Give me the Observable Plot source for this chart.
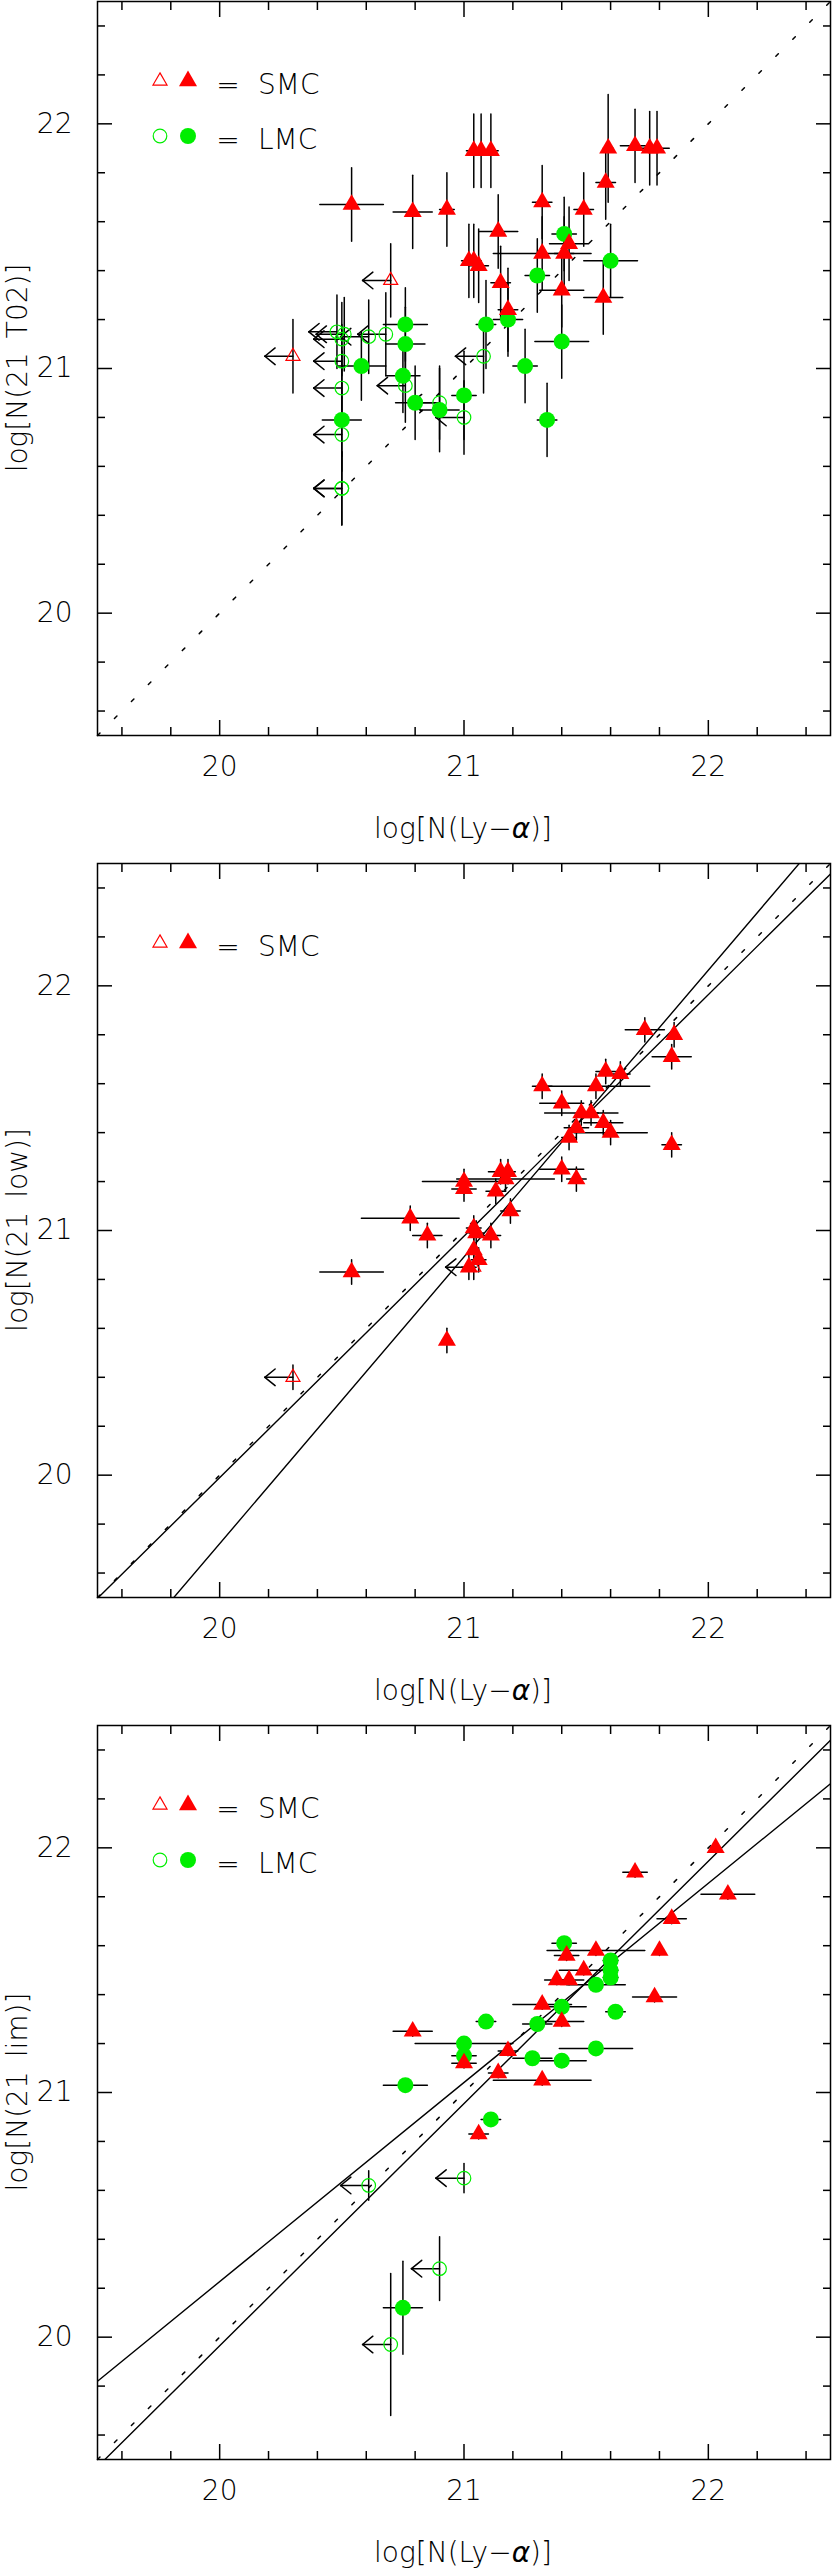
<!DOCTYPE html>
<html>
<head>
<meta charset="utf-8">
<script src="https://cdn.jsdelivr.net/npm/d3@7"></script>
<script src="https://cdn.jsdelivr.net/npm/@observablehq/plot@0.6"></script>
<style>
  html, body { margin: 0; padding: 0; background: #fff; }
  #chart svg { display: block; }
  #chart text { font-family: "DejaVu Sans", "Liberation Sans", sans-serif; font-weight: 300; }
</style>
</head>
<body>
<div id="chart"></div>
<script>
const RED = "#ff0000";
const GREEN = "#00ee00";

// Axis domain and ticks (log column density)
const axisDomain = [19.5, 22.5];
const majorTicks = [20, 21, 22];
const minorTicks = [19.6, 19.8, 20.2, 20.4, 20.6, 20.8, 21.2, 21.4, 21.6, 21.8, 22.2, 22.4];
const identityLine = [19.5, 22.5];

// ---------- Panel 1: log N(21 T02) vs log N(Ly-alpha)
const p1SmcX  = [20.54,20.79,20.93,21.04,21.07,21.11,21.59,21.70,21.76,21.79,21.58,21.32,21.49,21.14,21.43,21.02,21.04,21.06,21.32,21.41,21.15,21.40,21.57,21.18];
const p1SmcY  = [21.67,21.64,21.65,21.89,21.89,21.89,21.90,21.91,21.90,21.90,21.76,21.68,21.65,21.56,21.51,21.44,21.44,21.42,21.47,21.47,21.35,21.32,21.29,21.24];
const p1SmcXe = [0.13,0.08,0.03,0.03,0.03,0.03,0.02,0.06,0.03,0.05,0.04,0.04,0.04,0.08,0.08,0.03,0.03,0.04,0.20,0.04,0.04,0.09,0.08,0.04];
const p1SmcYe = [0.15,0.15,0.15,0.15,0.15,0.15,0.22,0.15,0.15,0.15,0.15,0.15,0.15,0.15,0.15,0.15,0.15,0.15,0.15,0.15,0.15,0.15,0.15,0.17];
const p1SmcLimX  = [20.70,20.30];
const p1SmcLimY  = [21.36,21.05];
const p1SmcLimYe = [0.15,0.15];
const p1LmcX  = [20.76,20.76,20.58,20.75,20.80,20.90,20.50,21.41,21.30,21.60,21.18,21.09,21.40,21.25,21.00,21.34];
const p1LmcY  = [21.18,21.10,21.01,20.97,20.86,20.83,20.79,21.55,21.38,21.44,21.20,21.18,21.11,21.01,20.89,20.79];
const p1LmcXe = [0.09,0.08,0.10,0.07,0.08,0.08,0.08,0.05,0.05,0.11,0.06,0.04,0.11,0.05,0.05,0.04];
const p1LmcYe = [0.15,0.15,0.14,0.15,0.15,0.17,0.15,0.15,0.15,0.15,0.15,0.18,0.15,0.15,0.18,0.15];
const p1LmcLimX  = [20.50,20.50,20.50,20.50,20.50,20.48,20.50,20.51,20.61,20.68,20.76,20.90,21.00,21.08];
const p1LmcLimY  = [20.73,20.51,20.51,20.92,21.03,21.15,21.12,21.14,21.13,21.14,20.93,20.86,20.80,21.05];
const p1LmcLimYe = [0.15,0.15,0.15,0.15,0.15,0.15,0.15,0.15,0.15,0.17,0.15,0.15,0.15,0.15];

// ---------- Panel 2: log N(21 low) vs log N(Ly-alpha)
const p2SmcX  = [21.74,21.86,21.85,21.58,21.64,21.32,21.54,21.40,21.48,21.52,21.46,21.57,21.60,21.43,21.85,21.40,21.46,21.00,21.00,21.15,21.18,21.17,21.13,21.19,21.04,21.05,21.11,21.04,21.06,21.02,20.78,20.85,20.54,20.93];
const p2SmcY  = [21.82,21.80,21.71,21.65,21.64,21.59,21.59,21.52,21.48,21.48,21.42,21.44,21.40,21.38,21.35,21.25,21.21,21.20,21.17,21.24,21.24,21.21,21.16,21.08,21.01,20.99,20.98,20.92,20.88,20.85,21.05,20.98,20.83,20.55];
const p2SmcXe = [0.08,0.02,0.08,0.04,0.04,0.04,0.22,0.09,0.15,0.03,0.05,0.08,0.15,0.03,0.04,0.09,0.04,0.17,0.05,0.05,0.03,0.20,0.04,0.04,0.03,0.03,0.04,0.02,0.03,0.03,0.20,0.06,0.13,0.02];
const p2SmcYe = [0.05,0.05,0.05,0.05,0.05,0.05,0.05,0.05,0.05,0.05,0.05,0.05,0.05,0.05,0.05,0.05,0.05,0.05,0.05,0.05,0.05,0.05,0.05,0.05,0.05,0.05,0.05,0.05,0.05,0.05,0.05,0.05,0.05,0.05];
const p2SmcLimX  = [20.30,21.04];
const p2SmcLimY  = [20.40,20.85];
const p2SmcLimYe = [0.05,0.05];
const p2FitIntercept = [0.25, -3.72];
const p2FitSlope     = [0.987, 1.172];

// ---------- Panel 3: log N(21 lim) vs log N(Ly-alpha)
const p3SmcX  = [20.79,21.00,21.06,21.14,21.18,21.32,21.32,21.40,21.38,21.43,21.42,21.49,21.54,21.78,21.80,21.85,21.70,22.03,22.08];
const p3SmcY  = [21.25,21.12,20.83,21.08,21.17,21.05,21.36,21.29,21.46,21.46,21.56,21.50,21.58,21.39,21.58,21.71,21.90,22.00,21.81];
const p3SmcXe = [0.08,0.05,0.04,0.04,0.04,0.20,0.12,0.09,0.05,0.06,0.05,0.10,0.20,0.09,0.02,0.06,0.05,0.02,0.11];
const p3SmcYe = [0.02,0.02,0.02,0.02,0.02,0.02,0.02,0.02,0.02,0.02,0.02,0.02,0.02,0.02,0.02,0.02,0.02,0.02,0.02];
const p3LmcX  = [20.75,20.76,21.00,21.00,21.09,21.11,21.28,21.30,21.40,21.40,21.41,21.54,21.54,21.60,21.60,21.60,21.62];
const p3LmcY  = [20.12,21.03,21.20,21.15,21.29,20.89,21.14,21.28,21.13,21.35,21.61,21.18,21.44,21.47,21.50,21.54,21.33];
const p3LmcXe = [0.08,0.09,0.20,0.05,0.04,0.04,0.08,0.06,0.10,0.10,0.05,0.15,0.12,0.03,0.03,0.03,0.04];
const p3LmcYe = [0.19,0.02,0.02,0.02,0.02,0.02,0.02,0.02,0.02,0.02,0.02,0.02,0.02,0.02,0.02,0.02,0.02];
const p3LmcLimX  = [21.00,20.61,20.90,20.70];
const p3LmcLimY  = [20.65,20.62,20.28,19.97];
const p3LmcLimYe = [0.06,0.06,0.13,0.29];
const p3FitIntercept = [3.947, 0.165];
const p3FitSlope     = [0.814, 0.99];

// ---------- helpers
function rows(x, y, xe, ye) {
  return x.map((v, i) => ({x: v, y: y[i], xe: xe ? xe[i] : 0, ye: ye ? ye[i] : 0}));
}
const ARROW = 0.115, HEAD_X = 0.042, HEAD_Y = 0.034;
const FONT = 28;

function panel(cfg) {
  const {smc = [], smcLim = [], lmc = [], lmcLim = [], fitA = [], fitB = [], height, ylabel, showLMC} = cfg;
  const W = 832, mL = 97, mR = 2, mT = 1, frameH = 734;
  const mB = height - mT - frameH;
  const pts = [...smc, ...smcLim, ...lmc, ...lmcLim];
  const lims = [...smcLim, ...lmcLim];
  const fitRows = fitA.flatMap((a, k) => axisDomain.map(x => ({k, x, y: a + fitB[k] * x})));
  const line = {stroke: "#000", strokeWidth: 1.5, strokeLinecap: "round"};
  const tickAxes = [];
  for (const [ticks, size] of [[majorTicks, -15], [minorTicks, -8]]) {
    for (const anchor of ["bottom", "top"]) tickAxes.push(Plot.axisX({ticks, anchor, tickSize: size, tickFormat: () => "", label: null, strokeWidth: 1.5}));
    for (const anchor of ["left", "right"]) tickAxes.push(Plot.axisY({ticks, anchor, tickSize: size, tickFormat: () => "", label: null, strokeWidth: 1.5}));
  }
  const svg = Plot.plot({
    width: W, height,
    marginLeft: mL, marginRight: mR, marginTop: mT, marginBottom: mB,
    x: {domain: axisDomain},
    y: {domain: axisDomain},
    style: {fontFamily: '"DejaVu Sans", sans-serif', background: "#fff", color: "#000"},
    marks: [
      Plot.line(identityLine.map(v => ({x: v, y: v})), {x: "x", y: "y", stroke: "#000", strokeWidth: 1.5, strokeDasharray: "3.5,20.5"}),
      Plot.line(fitRows, {x: "x", y: "y", z: "k", stroke: "#000", strokeWidth: 1.4, clip: true}),
      Plot.link(pts.filter(d => d.ye > 0), {x1: "x", x2: "x", y1: d => d.y - d.ye, y2: d => d.y + d.ye, ...line}),
      Plot.link([...smc, ...lmc].filter(d => d.xe > 0), {y1: "y", y2: "y", x1: d => d.x - d.xe, x2: d => d.x + d.xe, ...line}),
      Plot.link(lims, {x1: "x", y1: "y", x2: d => d.x - ARROW, y2: "y", ...line}),
      Plot.link(lims, {x1: d => d.x - ARROW, y1: "y", x2: d => d.x - ARROW + HEAD_X, y2: d => d.y + HEAD_Y, ...line}),
      Plot.link(lims, {x1: d => d.x - ARROW, y1: "y", x2: d => d.x - ARROW + HEAD_X, y2: d => d.y - HEAD_Y, ...line}),
      Plot.dot(lmcLim, {x: "x", y: "y", r: 6.8, fill: "none", stroke: GREEN, strokeWidth: 1.2}),
      Plot.dot(smcLim, {x: "x", y: "y", symbol: "triangle", r: 5.2, fill: "none", stroke: RED, strokeWidth: 1.2}),
      Plot.dot(lmc, {x: "x", y: "y", r: 8, fill: GREEN, stroke: "none"}),
      Plot.dot(smc, {x: "x", y: "y", symbol: "triangle", r: 6.7, fill: RED, stroke: "none"}),
      Plot.frame({stroke: "#000", strokeWidth: 1.5}),
      ...tickAxes,
      Plot.axisX({ticks: majorTicks, anchor: "bottom", tickSize: 0, tickPadding: 21, fontSize: FONT, label: null, tickFormat: d => String(d)}),
      Plot.axisY({ticks: majorTicks, anchor: "left", tickSize: 0, tickPadding: 25, fontSize: FONT, label: null, tickFormat: d => String(d)})
    ]
  });
  const s = d3.select(svg);
  // x-axis label
  const xl = s.append("text").attr("x", 463).attr("y", mT + frameH + 103)
    .attr("text-anchor", "middle").attr("font-size", FONT).attr("fill", "#000");
  xl.append("tspan").text("log[N(Ly\u2212");
  xl.append("tspan").attr("font-style", "italic").text("\u03b1");
  xl.append("tspan").text(")]");
  // y-axis label
  s.append("text").attr("transform", "rotate(-90)")
    .attr("x", -(mT + frameH / 2)).attr("y", 27)
    .attr("text-anchor", "middle").attr("font-size", FONT).attr("fill", "#000")
    .text(ylabel);
  // legend
  const tri = d3.symbol(d3.symbolTriangle);
  const lg = s.append("g").attr("text-anchor", "start");
  lg.append("path").attr("d", tri.size(5.2 * 5.2 * Math.PI)()).attr("transform", `translate(160,${mT + 80})`)
    .attr("fill", "none").attr("stroke", RED).attr("stroke-width", 1.2);
  lg.append("path").attr("d", tri.size(6.7 * 6.7 * Math.PI)()).attr("transform", `translate(188,${mT + 80})`)
    .attr("fill", RED);
  lg.append("text").attr("x", 228).attr("y", mT + 82.5).attr("dy", "0.36em").attr("text-anchor", "middle").attr("font-size", FONT).attr("fill", "#000").text("=");
  lg.append("text").attr("x", 258).attr("y", mT + 82.5).attr("dy", "0.36em").attr("text-anchor", "start").attr("font-size", FONT).attr("fill", "#000").text("SMC");
  if (showLMC) {
    lg.append("circle").attr("cx", 160).attr("cy", mT + 135).attr("r", 6.8).attr("fill", "none").attr("stroke", GREEN).attr("stroke-width", 1.2);
    lg.append("circle").attr("cx", 188).attr("cy", mT + 135).attr("r", 8).attr("fill", GREEN);
    lg.append("text").attr("x", 228).attr("y", mT + 137.5).attr("dy", "0.36em").attr("text-anchor", "middle").attr("font-size", FONT).attr("fill", "#000").text("=");
    lg.append("text").attr("x", 258).attr("y", mT + 137.5).attr("dy", "0.36em").attr("text-anchor", "start").attr("font-size", FONT).attr("fill", "#000").text("LMC");
  }
  return svg;
}

const chart = document.getElementById("chart");
chart.append(panel({
  smc: rows(p1SmcX, p1SmcY, p1SmcXe, p1SmcYe),
  smcLim: rows(p1SmcLimX, p1SmcLimY, null, p1SmcLimYe),
  lmc: rows(p1LmcX, p1LmcY, p1LmcXe, p1LmcYe),
  lmcLim: rows(p1LmcLimX, p1LmcLimY, null, p1LmcLimYe),
  height: 862, ylabel: "log[N(21\u2002T02)]", showLMC: true
}));
chart.append(panel({
  smc: rows(p2SmcX, p2SmcY, p2SmcXe, p2SmcYe),
  smcLim: rows(p2SmcLimX, p2SmcLimY, null, p2SmcLimYe),
  fitA: p2FitIntercept, fitB: p2FitSlope,
  height: 862, ylabel: "log[N(21\u2002low)]", showLMC: false
}));
chart.append(panel({
  smc: rows(p3SmcX, p3SmcY, p3SmcXe, p3SmcYe),
  lmc: rows(p3LmcX, p3LmcY, p3LmcXe, p3LmcYe),
  lmcLim: rows(p3LmcLimX, p3LmcLimY, null, p3LmcLimYe),
  fitA: p3FitIntercept, fitB: p3FitSlope,
  height: 846, ylabel: "log[N(21\u2002lim)]", showLMC: true
}));
</script>
</body>
</html>
